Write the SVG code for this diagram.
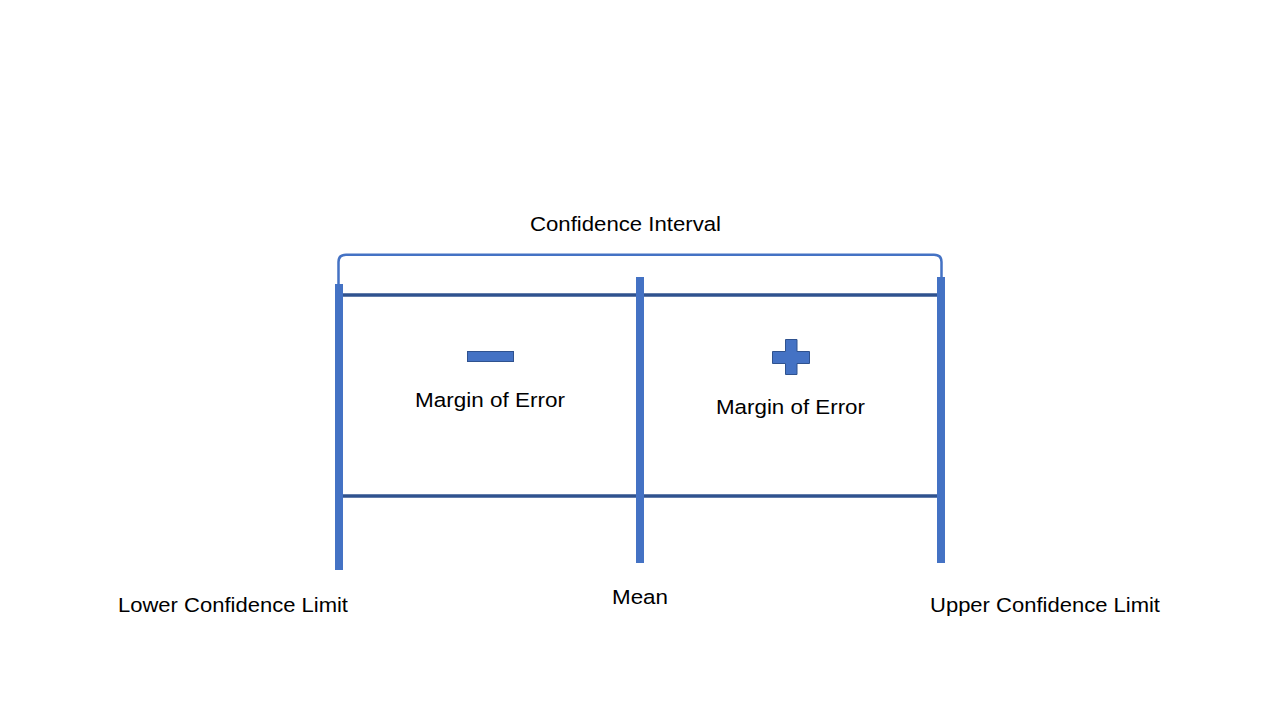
<svg xmlns="http://www.w3.org/2000/svg" width="1280" height="720" viewBox="0 0 1280 720">
<style>
.lbl{font-family:"Liberation Sans",Arial,sans-serif;font-size:20.5px;fill:#000}
.bar{fill:#4472C4}
.hl{stroke:#2F528F;stroke-width:3.5;fill:none}
.sym{fill:#4472C4;stroke:#2F528F;stroke-width:1}
</style>
<rect width="1280" height="720" fill="#fff"/>
<g id="connectors">
<path id="bracket" d="M338.5,284 L338.5,262 Q338.5,254.7 346,254.7 L934,254.7 Q941.5,254.7 941.5,262 L941.5,277" fill="none" stroke="#4472C4" stroke-width="2.5"/>
<line class="hl" x1="343" y1="295" x2="937" y2="295"/>
<line class="hl" x1="343" y1="496" x2="937" y2="496"/>
</g>
<g id="lower-limit">
<rect class="bar" x="335" y="284" width="8" height="286"/>
<text class="lbl" x="118" y="612" textLength="230" lengthAdjust="spacingAndGlyphs">Lower Confidence Limit</text>
</g>
<g id="mean">
<rect class="bar" x="636" y="277" width="8" height="286"/>
<text class="lbl" x="612" y="604" textLength="56" lengthAdjust="spacingAndGlyphs">Mean</text>
</g>
<g id="upper-limit">
<rect class="bar" x="937" y="277" width="8" height="286"/>
<text class="lbl" x="930" y="612" textLength="230" lengthAdjust="spacingAndGlyphs">Upper Confidence Limit</text>
</g>
<g id="confidence-interval">
<text class="lbl" x="530" y="231" textLength="191" lengthAdjust="spacingAndGlyphs">Confidence Interval</text>
</g>
<g id="minus-margin">
<rect class="sym" x="467.5" y="351.5" width="46" height="10"/>
<text class="lbl" x="415" y="407" textLength="150" lengthAdjust="spacingAndGlyphs">Margin of Error</text>
</g>
<g id="plus-margin">
<path class="sym" d="M785.5,339.5 H797 V351.5 H809.5 V363.5 H797 V374.5 H785.5 V363.5 H772.5 V351.5 H785.5 Z"/>
<text class="lbl" x="716" y="414" textLength="149" lengthAdjust="spacingAndGlyphs">Margin of Error</text>
</g>
</svg>
